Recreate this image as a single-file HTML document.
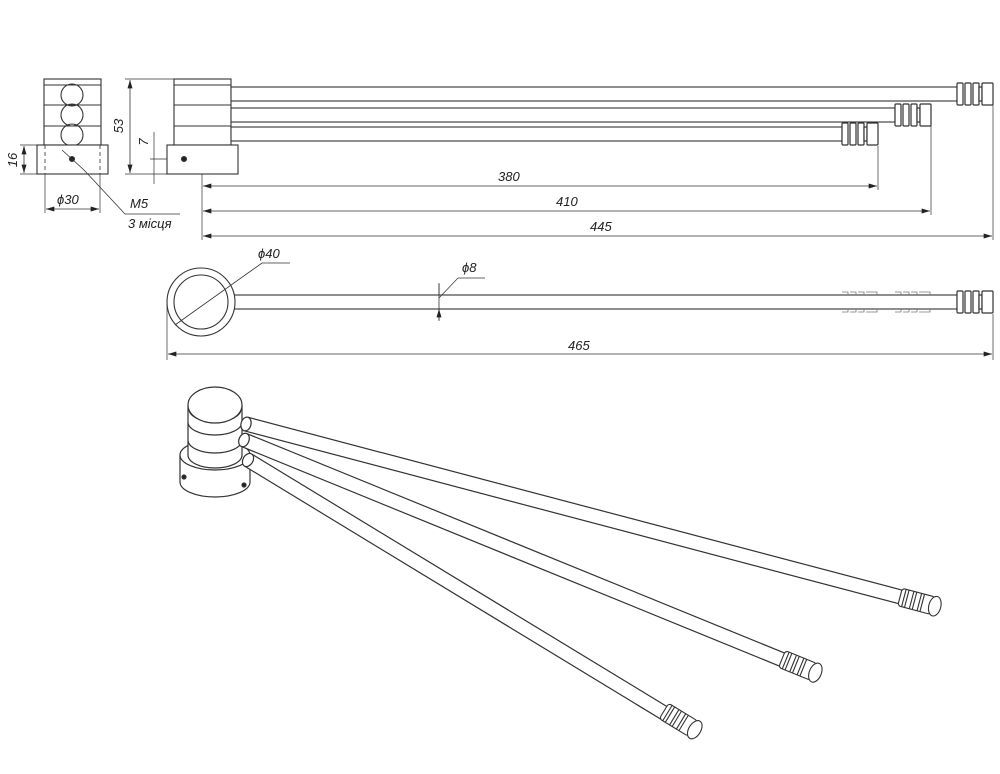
<!DOCTYPE html>
<html><head><meta charset="utf-8"><style>
html,body{margin:0;padding:0;background:#fff;}
svg{display:block;font-family:"Liberation Sans",sans-serif;}
text{font-style:italic;font-size:13px;fill:#222;}
</style></head><body>
<svg width="1000" height="774" viewBox="0 0 1000 774" xmlns="http://www.w3.org/2000/svg">
<defs>
<marker id="a" viewBox="0 0 10 6" refX="10" refY="3" markerWidth="9" markerHeight="5" orient="auto-start-reverse" markerUnits="userSpaceOnUse"><path d="M0,0 L10,3 L0,6z" fill="#222"/></marker>
<g id="capH" fill="#fff" stroke="#333" stroke-width="1.2">
<rect x="0" y="-11" width="6" height="22" rx="1"/>
<rect x="8" y="-11" width="6" height="22" rx="1"/>
<rect x="16" y="-11" width="6" height="22" rx="1"/>
<rect x="22" y="-7" width="3" height="14"/>
<rect x="25" y="-11" width="11" height="22" rx="1"/>
</g>
<g id="cap3" fill="#fff" stroke="#333" stroke-width="1.1">
<rect x="0" y="-9" width="34" height="18" rx="3"/>
<path d="M4,-9 v18 M7,-9 v18 M12,-9 v18 M15,-9 v18 M20,-9 v18 M23,-9 v18" fill="none"/>
<ellipse cx="36" cy="0" rx="6" ry="10"/>
</g>
</defs>
<g stroke="#333" stroke-width="1.1" fill="none">
<rect x="44" y="79" width="57" height="66" fill="#fff"/>
<path d="M44,85 H101 M44,105 H101 M44,126 H101"/>
<circle cx="72" cy="95" r="11"/><circle cx="72" cy="115" r="11"/><circle cx="72" cy="135" r="11"/>
<rect x="37" y="145" width="71" height="29" fill="#fff"/>
<path d="M45,145 V174 M100,145 V174" stroke-dasharray="4,3" stroke-width="0.8"/>
<circle cx="72" cy="159" r="2.5" fill="#222"/>
<path d="M62,150 L84,170 L125,214 H180" stroke-width="0.8"/>
<path d="M37,145 H20 M37,174 H20" stroke-width="0.7"/>
<path d="M24,146 V173" stroke-width="0.8" marker-start="url(#a)" marker-end="url(#a)"/>
<path d="M45,174 V213 M100,174 V213" stroke-width="0.7"/>
<path d="M46,209 H99" stroke-width="0.8" marker-start="url(#a)" marker-end="url(#a)"/>
<path d="M125,79 H174 M125,174 H167" stroke-width="0.7"/>
<path d="M130,80 V173" stroke-width="0.8" marker-start="url(#a)" marker-end="url(#a)"/>
<path d="M154,132 V184 M150,159 H180" stroke-width="0.7"/>
<rect x="174" y="79" width="57" height="66" fill="#fff"/>
<path d="M174,85 H231 M174,105 H231 M174,126 H231"/>
<rect x="167" y="145" width="71" height="29" fill="#fff"/>
<circle cx="184" cy="159" r="2.5" fill="#222"/>
<rect x="231" y="87" width="726" height="14" fill="#fff"/>
<rect x="231" y="108" width="664" height="14" fill="#fff"/>
<rect x="231" y="127" width="611" height="14" fill="#fff"/>
<path d="M202,174 V240 M878,146 V190 M931,126 V215 M993,105 V240" stroke-width="0.7"/>
<path d="M203,186 H877" stroke-width="0.8" marker-start="url(#a)" marker-end="url(#a)"/>
<path d="M203,211 H930" stroke-width="0.8" marker-start="url(#a)" marker-end="url(#a)"/>
<path d="M203,236 H992" stroke-width="0.8" marker-start="url(#a)" marker-end="url(#a)"/>
</g>
<use href="#capH" x="957" y="94"/>
<use href="#capH" x="895" y="115"/>
<use href="#capH" x="842" y="134"/>
<text x="57" y="204">ϕ30</text>
<text x="130" y="208">M5</text>
<text x="128" y="228">3 місця</text>
<text transform="translate(17,160) rotate(-90)" text-anchor="middle">16</text>
<text transform="translate(123,126) rotate(-90)" text-anchor="middle">53</text>
<text transform="translate(148,142) rotate(-90)" text-anchor="middle">7</text>
<text x="498" y="181">380</text>
<text x="556" y="206">410</text>
<text x="590" y="231">445</text>
<g stroke="#333" stroke-width="1.1" fill="none">
<rect x="230" y="295" width="727" height="14" fill="#fff"/>
<circle cx="201" cy="302" r="34" fill="#fff"/>
<circle cx="201" cy="302" r="27"/>
<path d="M175,325 L262,263 H290" stroke-width="0.8"/>
<path d="M439,283 V321" stroke-width="0.8"/>
<path d="M439,284 V295 M439,320 V309" stroke-width="0.8" marker-end="url(#a)"/>
<path d="M439,298 L458,278 H485" stroke-width="0.7"/>
<path d="M167,302 V360 M993,314 V360" stroke-width="0.7"/>
<path d="M168,354 H992" stroke-width="0.8" marker-start="url(#a)" marker-end="url(#a)"/>
<g stroke-width="0.8" stroke="#777">
<path d="M842,292 h6 v3 M850,292 h6 v3 M858,292 h6 v3 M866,292 h11 v3 M842,312 h6 v-3 M850,312 h6 v-3 M858,312 h6 v-3 M866,312 h11 v-3"/>
<path d="M895,292 h6 v3 M903,292 h6 v3 M911,292 h6 v3 M919,292 h11 v3 M895,312 h6 v-3 M903,312 h6 v-3 M911,312 h6 v-3 M919,312 h11 v-3"/>
</g>
</g>
<use href="#capH" x="957" y="302"/>
<text x="258" y="258">ϕ40</text>
<text x="462" y="272">ϕ8</text>
<text x="568" y="350">465</text>
<!-- 3D view -->
<g stroke="#333" stroke-width="1.2" fill="#fff">
<path d="M180,455 V482 A35,15 0 0 0 250,482 V455"/>
<ellipse cx="215" cy="455" rx="35" ry="15"/>
<circle cx="184" cy="477" r="2" fill="#222"/>
<circle cx="244" cy="485" r="2" fill="#222"/>
<path d="M188,405 V455 A27,13 0 0 0 242,455 V405"/>
<path d="M188,422 A27,13 0 0 0 242,422 M188,440 A27,13 0 0 0 242,440 M189,409 A26,13 0 0 0 241,409"/>
<ellipse cx="215" cy="405" rx="27" ry="18"/>
</g>
<g stroke="#333" stroke-width="1.2" fill="#fff">
<g transform="translate(248,460) rotate(31.3)"><rect x="0" y="-7" width="490" height="14" stroke="none"/><path d="M0,-7 H490 M0,7 H490" fill="none"/><ellipse cx="0" cy="0" rx="5" ry="7"/></g>
<g transform="translate(244,440) rotate(22.2)"><rect x="0" y="-7" width="585" height="14" stroke="none"/><path d="M0,-7 H585 M0,7 H585" fill="none"/><ellipse cx="0" cy="0" rx="5" ry="7"/></g>
<g transform="translate(246,424) rotate(14.8)"><rect x="0" y="-7" width="678" height="14" stroke="none"/><path d="M0,-7 H678 M0,7 H678" fill="none"/><ellipse cx="0" cy="0" rx="5" ry="7"/></g>
</g>
<use href="#cap3" transform="translate(900,597) rotate(14.8)"/>
<use href="#cap3" transform="translate(782,659) rotate(22.2)"/>
<use href="#cap3" transform="translate(664,711) rotate(31.3)"/>
</svg>
</body></html>
